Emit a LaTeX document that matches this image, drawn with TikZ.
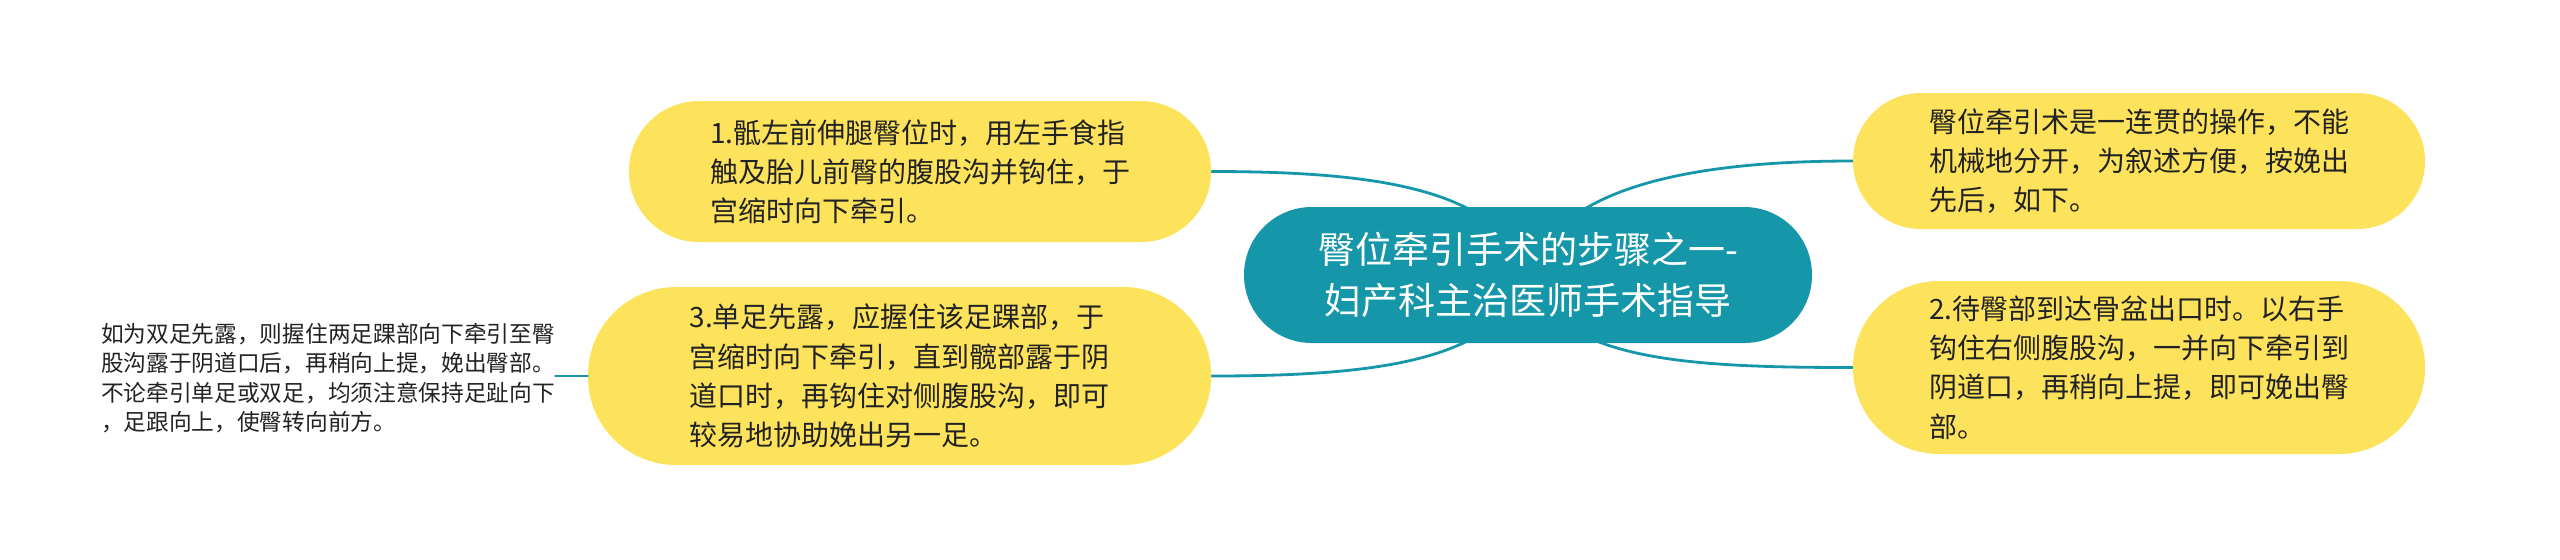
\documentclass[tikz,border=0pt]{standalone}
\usepackage{fontspec}
\setmainfont{Noto Sans CJK SC}
\usetikzlibrary{calc,backgrounds}
\definecolor{tealc}{HTML}{1597A9}
\definecolor{ylw}{HTML}{FDE35C}
\definecolor{txt}{HTML}{222222}
\tikzset{
  pill/.style={fill=ylw, rounded corners=#1, align=left, text=txt,
    font=\fontsize{14}{19.6}\selectfont, inner sep=0pt},
  centre/.style={fill=tealc, rounded corners=33.9pt, align=center, text=white,
    font=\fontsize{18.5}{25.3}\selectfont, inner sep=0pt,
    minimum width=284pt, minimum height=68pt},
  leaf/.style={align=left, text=txt, font=\fontsize{11.35}{14.7}\selectfont, inner sep=0pt},
  link/.style={draw=tealc, line width=1.4pt, line cap=round}
}
\begin{document}
\begin{tikzpicture}[x=0.5pt,y=-0.5pt]
\useasboundingbox (0,0) rectangle (2560,559);
\node[centre] (c) at (1528,275) {臀位牵引手术的步骤之一-\\妇产科主治医师手术指导};
\node[pill=35pt, minimum width=291pt, minimum height=70.5pt] (n1) at (920,171.5)
  {1.骶左前伸腿臀位时，用左手食指\\触及胎儿前臀的腹股沟并钩住，于\\宫缩时向下牵引。};
\node[pill=44pt, minimum width=311.5pt, minimum height=89pt] (n3) at (899.5,376)
  {3.单足先露，应握住该足踝部，于\\宫缩时向下牵引，直到髋部露于阴\\道口时，再钩住对侧腹股沟，即可\\较易地协助娩出另一足。};
\node[pill=33.9pt, minimum width=286pt, minimum height=68pt] (r1) at (2139,161)
  {臀位牵引术是一连贯的操作，不能\\机械地分开，为叙述方便，按娩出\\先后，如下。};
\node[pill=43pt, minimum width=286pt, minimum height=86.5pt] (r2) at (2139,367.5)
  {2.待臀部到达骨盆出口时。以右手\\钩住右侧腹股沟，一并向下牵引到\\阴道口，再稍向上提，即可娩出臀\\部。};
\node[leaf] (lf) at (328,378)
  {如为双足先露，则握住两足踝部向下牵引至臀\\股沟露于阴道口后，再稍向上提，娩出臀部。\\不论牵引单足或双足，均须注意保持足趾向下\\，足跟向上，使臀转向前方。};
\begin{scope}[on background layer]
\draw[link] (c.center) .. controls +(-28,-85) and +(170,0) .. (n1.east);
\draw[link] (c.center) .. controls +(-28,85) and +(170,0) .. (n3.east);
\draw[link] (c.center) .. controls +(28,-85) and +(-170,0) .. (r1.west);
\draw[link] (c.center) .. controls +(28,85) and +(-170,0) .. (r2.west);
\end{scope}
\draw[link] (n3.west) -- (n3.west -| lf.east);
\end{tikzpicture}
\end{document}
